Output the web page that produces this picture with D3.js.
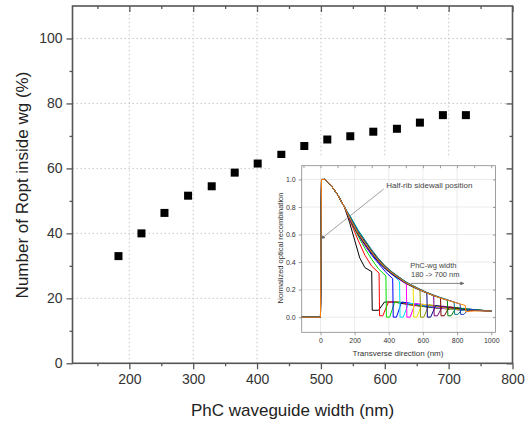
<!DOCTYPE html>
<html>
<head>
<meta charset="utf-8">
<script src="https://cdn.jsdelivr.net/npm/d3@7"></script>
<style>
  body { margin: 0; background: #fff; }
  svg { display: block; font-family: Arial, "Liberation Sans", sans-serif; }
</style>
</head>
<body>
<svg id="chart"></svg>
<script>
// main plot data
const widths = [183, 219, 255, 292, 329, 365, 401, 438, 474, 510, 546, 582, 619, 655, 691, 727]
const roptInside = [33, 40, 46.3, 51.6, 54.5, 58.7, 61.5, 64.2, 66.9, 68.9, 69.9, 71.3, 72.2, 74.1, 76.4, 76.4]
const xTicks = [200, 300, 400, 500, 600, 700, 800]
const yTicks = [0, 20, 40, 60, 80, 100]

// inset data (normalized optical recombination vs transverse direction)
const insetRise = [[-110, 0], [0, 0], [6, 1], [25, 1], [60, 0.96], [100, 0.89], [140, 0.8]]
const insetColors = ["#000000", "#ff0000", "#00e000", "#0000ff", "#00e0ff", "#ff00ff", "#f0e000",
  "#909000", "#000080", "#800080", "#800000", "#008000", "#008080", "#2040c0", "#ff8000"]
const insetTails = [
  [[170, 0.69], [200, 0.56], [230, 0.43], [260, 0.36], [300, 0.33], [303, 0.05], [340, 0.05], [375, 0.11], [430, 0.11], [520, 0.09], [650, 0.07], [800, 0.055], [1000, 0.045]],
  [[180, 0.68], [220, 0.56], [260, 0.45], [300, 0.37], [343, 0.32], [346, 0.01], [365, 0.01], [398, 0.11], [460, 0.11], [560, 0.085], [700, 0.065], [850, 0.05], [1000, 0.045]],
  [[180, 0.69], [220, 0.59], [260, 0.5], [300, 0.42], [340, 0.35], [383, 0.3], [386, 0], [405, 0], [435, 0.11], [495, 0.105], [600, 0.08], [750, 0.06], [1000, 0.045]],
  [[180, 0.7], [220, 0.6], [260, 0.52], [300, 0.45], [340, 0.39], [380, 0.33], [423, 0.28], [426, 0], [445, 0], [475, 0.11], [530, 0.1], [640, 0.075], [800, 0.055], [1000, 0.045]],
  [[180, 0.72], [220, 0.635], [260, 0.56], [300, 0.48], [340, 0.41], [380, 0.35], [420, 0.31], [463, 0.26], [466, 0], [485, 0], [515, 0.1], [570, 0.095], [680, 0.07], [850, 0.05], [1000, 0.045]],
  [[180, 0.69], [220, 0.6], [260, 0.52], [300, 0.46], [340, 0.4], [380, 0.35], [420, 0.31], [460, 0.275], [503, 0.24], [506, 0], [525, 0], [555, 0.1], [610, 0.09], [720, 0.065], [1000, 0.045]],
  [[180, 0.71], [220, 0.62], [260, 0.55], [300, 0.48], [340, 0.42], [380, 0.365], [420, 0.325], [460, 0.285], [500, 0.25], [543, 0.22], [546, 0], [565, 0], [595, 0.095], [650, 0.085], [760, 0.06], [1000, 0.045]],
  [[180, 0.7], [220, 0.61], [260, 0.53], [300, 0.465], [340, 0.405], [380, 0.355], [420, 0.315], [460, 0.28], [500, 0.248], [540, 0.222], [583, 0.2], [586, 0], [605, 0], [635, 0.09], [690, 0.08], [800, 0.058], [1000, 0.045]],
  [[180, 0.69], [220, 0.6], [260, 0.53], [300, 0.46], [340, 0.4], [380, 0.35], [420, 0.31], [460, 0.278], [500, 0.245], [540, 0.22], [580, 0.197], [623, 0.175], [626, 0], [645, 0], [675, 0.085], [730, 0.075], [850, 0.055], [1000, 0.045]],
  [[180, 0.7], [220, 0.615], [260, 0.545], [300, 0.475], [340, 0.415], [380, 0.362], [420, 0.322], [460, 0.287], [500, 0.252], [540, 0.226], [580, 0.2], [620, 0.178], [663, 0.155], [666, 0.01], [685, 0.01], [715, 0.08], [770, 0.07], [880, 0.052], [1000, 0.045]],
  [[180, 0.71], [220, 0.62], [260, 0.55], [300, 0.48], [340, 0.42], [380, 0.37], [420, 0.325], [460, 0.29], [500, 0.255], [540, 0.228], [580, 0.203], [620, 0.18], [660, 0.16], [703, 0.14], [706, 0.01], [725, 0.01], [755, 0.075], [810, 0.065], [900, 0.05], [1000, 0.045]],
  [[180, 0.7], [220, 0.605], [260, 0.535], [300, 0.468], [340, 0.408], [380, 0.358], [420, 0.318], [460, 0.283], [500, 0.25], [540, 0.224], [580, 0.2], [620, 0.177], [660, 0.157], [700, 0.14], [743, 0.123], [746, 0.01], [765, 0.01], [795, 0.07], [850, 0.06], [1000, 0.045]],
  [[180, 0.72], [220, 0.63], [260, 0.56], [300, 0.49], [340, 0.425], [380, 0.37], [420, 0.328], [460, 0.292], [500, 0.257], [540, 0.23], [580, 0.205], [620, 0.182], [660, 0.162], [700, 0.144], [740, 0.128], [783, 0.108], [786, 0.02], [805, 0.02], [835, 0.065], [880, 0.055], [1000, 0.045]],
  [[180, 0.705], [220, 0.615], [260, 0.545], [300, 0.475], [340, 0.412], [380, 0.362], [420, 0.32], [460, 0.285], [500, 0.252], [540, 0.226], [580, 0.201], [620, 0.179], [660, 0.159], [700, 0.141], [740, 0.126], [780, 0.111], [818, 0.095], [821, 0.02], [840, 0.02], [870, 0.06], [920, 0.05], [1000, 0.045]],
  [[180, 0.7], [220, 0.61], [260, 0.54], [300, 0.47], [340, 0.41], [380, 0.36], [420, 0.32], [460, 0.285], [500, 0.25], [540, 0.225], [580, 0.2], [620, 0.178], [660, 0.158], [700, 0.14], [740, 0.125], [780, 0.11], [820, 0.095], [848, 0.085], [851, 0.04], [900, 0.045], [1000, 0.045]]
]
const insetXTicks = [0, 200, 400, 600, 800, 1000]
const insetYTicks = [0, 0.2, 0.4, 0.6, 0.8, 1.0]

var svgWidth = 529, svgHeight = 423
var svg = d3.select("#chart").attr("width", svgWidth).attr("height", svgHeight)

let x = d3.scaleLinear().domain([111, 800]).range([72.5, 512.5])
let y = d3.scaleLinear().domain([0, 110]).range([363.3, 6])
const axisColor = "#555"

// dotted grid
svg.append("g").selectAll("line").data(xTicks.slice(0, -1)).join("line")
  .attr("x1", d => x(d)).attr("x2", d => x(d)).attr("y1", y(0)).attr("y2", y(110))
  .attr("stroke", "#c8c8c8").attr("stroke-dasharray", "1.5,2.5")
svg.append("g").selectAll("line").data(yTicks.slice(1)).join("line")
  .attr("x1", x(111)).attr("x2", x(800)).attr("y1", d => y(d)).attr("y2", d => y(d))
  .attr("stroke", "#c8c8c8").attr("stroke-dasharray", "1.5,2.5")

// axes
const tickStyle = g => {
  g.select(".domain").remove()
  g.selectAll("line").attr("stroke", axisColor).attr("stroke-width", 1.3)
  g.selectAll("text").attr("fill", "#333").attr("font-size", 14)
}
const xMinor = d3.range(150, 800, 100)
const yMinor = d3.range(10, 110, 20)

svg.append("g").attr("transform", "translate(0," + y(0) + ")")
  .call(d3.axisBottom(x).tickValues(xTicks).tickSize(6).tickPadding(5)).call(tickStyle)
svg.append("g").attr("transform", "translate(0," + y(0) + ")")
  .call(d3.axisBottom(x).tickValues(xMinor).tickSize(3).tickFormat("")).call(tickStyle)
svg.append("g").attr("transform", "translate(0," + y(110) + ")")
  .call(d3.axisBottom(x).tickValues(xTicks).tickSize(6).tickFormat("")).call(tickStyle)
svg.append("g").attr("transform", "translate(0," + y(110) + ")")
  .call(d3.axisBottom(x).tickValues(xMinor).tickSize(3).tickFormat("")).call(tickStyle)

svg.append("g").attr("transform", "translate(" + x(111) + ",0)")
  .call(d3.axisLeft(y).tickValues(yTicks).tickSize(6).tickPadding(4)).call(tickStyle)
svg.append("g").attr("transform", "translate(" + x(111) + ",0)")
  .call(d3.axisLeft(y).tickValues(yMinor).tickSize(3).tickFormat("")).call(tickStyle)
svg.append("g").attr("transform", "translate(" + x(800) + ",0)")
  .call(d3.axisLeft(y).tickValues(yTicks).tickSize(6).tickFormat("")).call(tickStyle)
svg.append("g").attr("transform", "translate(" + x(800) + ",0)")
  .call(d3.axisLeft(y).tickValues(yMinor).tickSize(3).tickFormat("")).call(tickStyle)

svg.append("rect")
  .attr("x", x(111)).attr("y", y(110))
  .attr("width", x(800) - x(111)).attr("height", y(0) - y(110))
  .attr("fill", "none").attr("stroke", axisColor).attr("stroke-width", 1.6)

// data points
svg.append("g").selectAll("rect").data(widths).join("rect")
  .attr("x", (d, i) => x(d) - 4).attr("y", (d, i) => y(roptInside[i]) - 4)
  .attr("width", 8).attr("height", 8).attr("fill", "#000")

svg.append("text").attr("x", 292.5).attr("y", 416).attr("text-anchor", "middle")
  .attr("font-size", 17).attr("fill", "#222").text("PhC waveguide width (nm)")
svg.append("text").attr("transform", "translate(28,185) rotate(-90)").attr("text-anchor", "middle")
  .attr("font-size", 17).attr("fill", "#222").text("Number of Ropt inside wg (%)")

// inset
const inset = svg.append("g")
inset.append("rect").attr("x", 272).attr("y", 158).attr("width", 234).attr("height", 203).attr("fill", "#fff")

let ix = d3.scaleLinear().domain([-110, 1025]).range([301.7, 495.5])
let iy = d3.scaleLinear().domain([-0.11, 1.1]).range([332.3, 165.7])

inset.append("g").selectAll("line").data(insetXTicks.slice(0, -1)).join("line")
  .attr("x1", d => ix(d)).attr("x2", d => ix(d)).attr("y1", iy(-0.11)).attr("y2", iy(1.1))
  .attr("stroke", "#e2e2e2").attr("stroke-width", 0.7)
inset.append("g").selectAll("line").data(insetYTicks).join("line")
  .attr("x1", ix(-110)).attr("x2", ix(1025)).attr("y1", d => iy(d)).attr("y2", d => iy(d))
  .attr("stroke", "#e2e2e2").attr("stroke-width", 0.7)

const line = d3.line().x(d => ix(d[0])).y(d => iy(d[1]))
insetTails.forEach((tail, i) => {
  inset.append("path")
    .datum(insetRise.concat(tail))
    .attr("fill", "none")
    .attr("stroke", insetColors[i])
    .attr("stroke-width", 1)
    .attr("stroke-linejoin", "round")
    .attr("d", line)
})

const insetTickStyle = g => {
  g.select(".domain").remove()
  g.selectAll("line").attr("stroke", "#777").attr("stroke-width", 0.7)
  g.selectAll("text").attr("fill", "#333").attr("font-size", 7)
}
inset.append("g").attr("transform", "translate(0," + iy(-0.11) + ")")
  .call(d3.axisBottom(ix).tickValues(insetXTicks).tickSize(3).tickPadding(3).tickFormat(d3.format("d"))).call(insetTickStyle)
inset.append("g").attr("transform", "translate(0," + iy(1.1) + ")")
  .call(d3.axisBottom(ix).tickValues(d3.range(-100, 1025, 100)).tickSize(2.5).tickFormat("")).call(insetTickStyle)
inset.append("g").attr("transform", "translate(" + ix(-110) + ",0)")
  .call(d3.axisLeft(iy).tickValues(insetYTicks).tickSize(3).tickPadding(3).tickFormat(d3.format(".1f"))).call(insetTickStyle)
inset.append("g").attr("transform", "translate(" + ix(1025) + ",0)")
  .call(d3.axisLeft(iy).tickValues(insetYTicks).tickSize(2.5).tickFormat("")).call(insetTickStyle)
inset.append("rect")
  .attr("x", ix(-110)).attr("y", iy(1.1))
  .attr("width", ix(1025) - ix(-110)).attr("height", iy(-0.11) - iy(1.1))
  .attr("fill", "none").attr("stroke", "#888").attr("stroke-width", 0.8)

inset.append("text").attr("x", 398).attr("y", 355.5).attr("text-anchor", "middle")
  .attr("font-size", 8).attr("fill", "#333").text("Transverse direction (nm)")
inset.append("text").attr("transform", "translate(283,248) rotate(-90)").attr("text-anchor", "middle")
  .attr("font-size", 7.5).attr("fill", "#333").text("Normalized optical recombination")

svg.append("defs").append("marker").attr("id", "head")
  .attr("viewBox", "0 0 10 10").attr("refX", 9).attr("refY", 5)
  .attr("markerWidth", 5).attr("markerHeight", 5).attr("orient", "auto")
  .append("path").attr("d", "M0,0L10,5L0,10z").attr("fill", "#666")

inset.append("line").attr("x1", ix(370)).attr("y1", iy(0.93)).attr("x2", ix(5)).attr("y2", iy(0.57))
  .attr("stroke", "#888").attr("stroke-width", 0.8).attr("marker-end", "url(#head)")
inset.append("text").attr("x", ix(385)).attr("y", iy(0.935)).attr("font-size", 8)
  .attr("fill", "#444").text("Half-rib sidewall position")
inset.append("text").attr("x", ix(525)).attr("y", iy(0.36)).attr("font-size", 7.5)
  .attr("fill", "#444").text("PhC-wg width")
inset.append("text").attr("x", ix(530)).attr("y", iy(0.29)).attr("font-size", 7.5)
  .attr("fill", "#444").text("180 -> 700 nm")
inset.append("line").attr("x1", ix(530)).attr("y1", iy(0.245)).attr("x2", ix(840)).attr("y2", iy(0.245))
  .attr("stroke", "#666").attr("stroke-width", 0.8).attr("marker-end", "url(#head)")
</script>
</body>
</html>
